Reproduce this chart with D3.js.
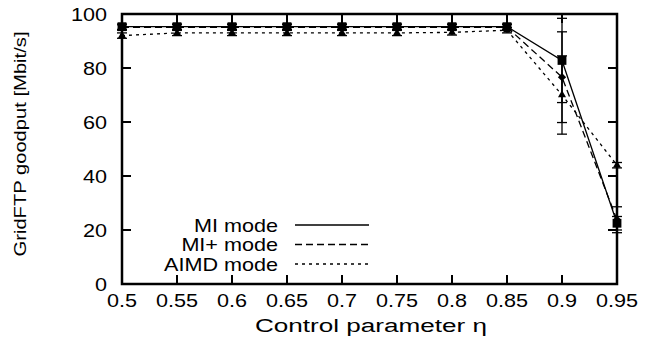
<!DOCTYPE html>
<html>
<head>
<meta charset="utf-8">
<script src="https://cdn.jsdelivr.net/npm/d3@7"></script>
<style>
  body { margin: 0; background: #fff; }
  svg { display: block; }
</style>
</head>
<body>
<div id="plot"></div>
<script>
// control parameter eta
const etas = [0.5, 0.55, 0.6, 0.65, 0.7, 0.75, 0.8, 0.85, 0.9, 0.95];

// goodput per mode [Mbit/s] and error half-widths
const miVals = [95.3, 95.3, 95.3, 95.3, 95.3, 95.3, 95.3, 95.3, 82.8, 22.5];
const miErr = [1, 1, 1, 1, 1, 1, 1, 1, 15.6, 2.5];
const miPlusVals = [95, 95.1, 95.1, 95.1, 95.1, 95.1, 95.1, 95.1, 76.6, 23.8];
const miPlusErr = [1, 1, 1, 1, 1, 1, 1, 1, 16.8, 4.8];
const aimdVals = [92, 93, 93, 93, 93, 93, 93.2, 94, 70, 44];
const aimdErr = [1, 1, 1, 1, 1, 1, 1, 1, 14.5, 1];

const xTicks = [0.5, 0.55, 0.6, 0.65, 0.7, 0.75, 0.8, 0.85, 0.9, 0.95];
const yTicks = [0, 20, 40, 60, 80, 100];

const width = 645;
const height = 345;
const marginLeft = 122;
const marginRight = 28;
const marginTop = 14;
const marginBottom = 61;

const font = "'Liberation Sans', Arial, Helvetica, sans-serif";
const stretch = 1.2; // labels in the picture are a little wide

const x = d3.scaleLinear()
  .domain([0.5, 0.95])
  .range([marginLeft, width - marginRight]);

const y = d3.scaleLinear()
  .domain([0, 100])
  .range([height - marginBottom, marginTop]);

const series = [
  {name: "MI mode", vals: miVals, err: miErr, dash: null, sym: "square"},
  {name: "MI+ mode", vals: miPlusVals, err: miPlusErr, dash: "7,4", sym: "diamond"},
  {name: "AIMD mode", vals: aimdVals, err: aimdErr, dash: "3,4", sym: "triangle"},
];

const svg = d3.select("#plot").append("svg")
  .attr("width", width)
  .attr("height", height)
  .attr("viewBox", [0, 0, width, height]);

svg.append("defs").append("clipPath")
  .attr("id", "clip")
  .append("rect")
  .attr("x", marginLeft - 10)
  .attr("y", marginTop)
  .attr("width", width - marginLeft - marginRight + 20)
  .attr("height", height - marginTop - marginBottom);

// ticks on all four sides, pointing inward
const tickLen = 9;
const ticks = svg.append("g").attr("stroke", "#000").attr("stroke-width", 2);
xTicks.forEach(t => {
  ticks.append("line").attr("x1", x(t)).attr("x2", x(t))
    .attr("y1", y(0)).attr("y2", y(0) - tickLen);
  ticks.append("line").attr("x1", x(t)).attr("x2", x(t))
    .attr("y1", y(100)).attr("y2", y(100) + tickLen);
});
yTicks.forEach(t => {
  ticks.append("line").attr("x1", x(0.5)).attr("x2", x(0.5) + tickLen)
    .attr("y1", y(t)).attr("y2", y(t));
  ticks.append("line").attr("x1", x(0.95)).attr("x2", x(0.95) - tickLen)
    .attr("y1", y(t)).attr("y2", y(t));
});

// tick labels
svg.append("g")
  .selectAll("text")
  .data(xTicks)
  .join("text")
    .attr("transform", d => `translate(${x(d)},${y(0) + 23}) scale(${stretch},1)`)
    .attr("text-anchor", "middle")
    .style("font-family", font)
    .style("font-size", "18px")
    .text(d => d);

svg.append("g")
  .selectAll("text")
  .data(yTicks)
  .join("text")
    .attr("transform", d => `translate(107,${y(d) + 7}) scale(${stretch},1)`)
    .attr("text-anchor", "end")
    .style("font-family", font)
    .style("font-size", "18px")
    .text(d => d);

// axis titles
svg.append("text")
  .attr("x", 371)
  .attr("y", 332)
  .attr("text-anchor", "middle")
  .attr("textLength", 232)
  .attr("lengthAdjust", "spacingAndGlyphs")
  .style("font-family", font)
  .style("font-size", "18px")
  .text("Control parameter η");

svg.append("text")
  .attr("transform", "translate(26,144) rotate(-90)")
  .attr("text-anchor", "middle")
  .attr("textLength", 225)
  .attr("lengthAdjust", "spacingAndGlyphs")
  .style("font-family", font)
  .style("font-size", "17px")
  .text("GridFTP goodput [Mbit/s]");

// lines, error bars, markers
const line = d3.line((d, i) => x(etas[i]), d => y(d));
const plot = svg.append("g");
const linesG = plot.append("g");
const bars = plot.append("g").attr("clip-path", "url(#clip)")
  .attr("stroke", "#000").attr("stroke-width", 1.3);
const marks = plot.append("g");

series.forEach(s => {
  linesG.append("path")
    .attr("d", line(s.vals))
    .attr("fill", "none")
    .attr("stroke", "#000")
    .attr("stroke-width", 1.3)
    .attr("stroke-dasharray", s.dash);

  s.vals.forEach((v, i) => {
    const cx = x(etas[i]);
    const lo = y(v - s.err[i]);
    const hi = y(v + s.err[i]);
    bars.append("line").attr("x1", cx).attr("x2", cx).attr("y1", lo).attr("y2", hi);
    bars.append("line").attr("x1", cx - 5).attr("x2", cx + 5).attr("y1", lo).attr("y2", lo);
    bars.append("line").attr("x1", cx - 5).attr("x2", cx + 5).attr("y1", hi).attr("y2", hi);
  });
});

// markers, squares last so they sit on top
series.slice().reverse().forEach(s => {
  let sym, rot = 0;
  if (s.sym == "square") sym = d3.symbol(d3.symbolSquare, 78);
  else if (s.sym == "diamond") { sym = d3.symbol(d3.symbolSquare, 34); rot = 45; }
  else sym = d3.symbol(d3.symbolTriangle, 28);

  marks.append("g")
    .selectAll("path")
    .data(s.vals)
    .join("path")
      .attr("d", sym)
      .attr("transform", (d, i) => `translate(${x(etas[i])},${y(d)}) rotate(${rot})`)
      .attr("fill", "#000");
});

// frame
svg.append("rect")
  .attr("x", x(0.5))
  .attr("y", y(100))
  .attr("width", x(0.95) - x(0.5))
  .attr("height", y(0) - y(100))
  .attr("fill", "none")
  .attr("stroke", "#000")
  .attr("stroke-width", 2.5);

// legend
const legend = svg.append("g");
series.forEach((s, i) => {
  const ly = 225 + i * 19.5;
  legend.append("text")
    .attr("transform", `translate(278,${ly + 6.5}) scale(${stretch},1)`)
    .attr("text-anchor", "end")
    .style("font-family", font)
    .style("font-size", "18px")
    .text(s.name);
  legend.append("line")
    .attr("x1", 295).attr("x2", 369)
    .attr("y1", ly).attr("y2", ly)
    .attr("stroke", "#000")
    .attr("stroke-width", 1.3)
    .attr("stroke-dasharray", s.dash);
});
</script>
</body>
</html>
